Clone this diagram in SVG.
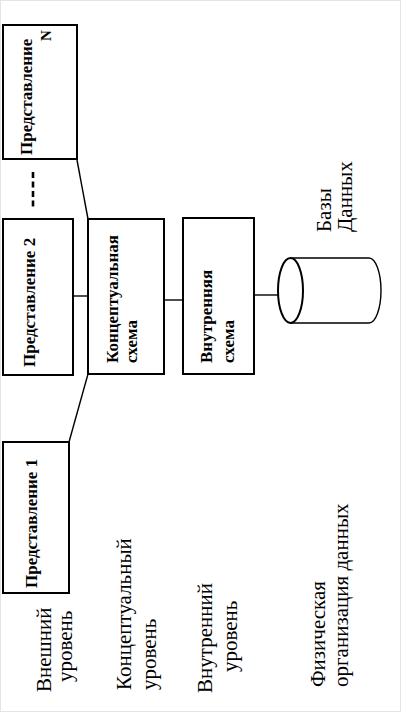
<svg xmlns="http://www.w3.org/2000/svg" width="401" height="712" viewBox="0 0 401 712">
<style>
.box{fill:#fff;stroke:#000;stroke-width:2}
.ln{fill:none;stroke:#000;stroke-width:1.4}
.bt{font-family:"Liberation Serif","Times New Roman",serif;font-size:17px;font-weight:bold;fill:#000}
.lt{font-family:"Liberation Serif","Times New Roman",serif;font-size:21px;fill:#000}
</style>
<rect x="0.5" y="0.5" width="400" height="711" fill="#fff" stroke="#e4e4e4" stroke-width="1"/>
<g id="connectors">
<line class="ln" x1="77" y1="160" x2="88" y2="219"/>
<line class="ln" x1="69" y1="442" x2="88" y2="374"/>
<line class="ln" x1="73" y1="296" x2="88" y2="296"/>
<line class="ln" x1="164" y1="300" x2="183" y2="300"/>
<line class="ln" x1="254" y1="295" x2="279" y2="295" stroke-width="2"/>
<line x1="33" y1="172" x2="33" y2="207" stroke="#000" stroke-width="2.6" stroke-dasharray="6,3.5"/>
</g>
<g id="viewN">
<rect class="box" x="3" y="25" width="74" height="134"/>
<text class="bt" transform="translate(32,155) rotate(-90)">Представление</text>
<text class="bt" style="font-size:15px" transform="translate(51,41) rotate(-90)">N</text>
</g>
<g id="view2">
<rect class="box" x="3" y="219" width="70" height="156"/>
<text class="bt" transform="translate(35,367) rotate(-90)">Представление 2</text>
</g>
<g id="view1">
<rect class="box" x="3" y="442" width="66" height="151"/>
<text class="bt" transform="translate(37,588) rotate(-90)">Представление 1</text>
</g>
<g id="conceptual">
<rect class="box" x="88" y="219" width="76" height="155"/>
<text class="bt" transform="translate(118,363) rotate(-90)">Концептуальная</text>
<text class="bt" transform="translate(137,363) rotate(-90)">схема</text>
</g>
<g id="internal">
<rect class="box" x="183" y="218" width="71" height="156"/>
<text class="bt" transform="translate(212,363) rotate(-90)">Внутренняя</text>
<text class="bt" transform="translate(234,363) rotate(-90)">схема</text>
</g>
<g id="database">
<path d="M290.5,258 L369,258 A12,32.5 0 0 1 369,323 L290.5,323" fill="#fff" stroke="#000" stroke-width="1.4"/>
<ellipse cx="290.5" cy="290.5" rx="12.5" ry="32.5" fill="#fff" stroke="#000" stroke-width="2"/>
<text class="lt" transform="translate(331,232) rotate(-90)">Базы</text>
<text class="lt" transform="translate(352,232) rotate(-90)">Данных</text>
</g>
<g id="labels">
<text class="lt" transform="translate(51,692) rotate(-90)">Внешний</text>
<text class="lt" transform="translate(72,682) rotate(-90)">уровень</text>
<text class="lt" transform="translate(131,690) rotate(-90)">Концептуальный</text>
<text class="lt" transform="translate(156,690) rotate(-90)">уровень</text>
<text class="lt" transform="translate(212,693) rotate(-90)">Внутренний</text>
<text class="lt" transform="translate(237,672) rotate(-90)">уровень</text>
<text class="lt" transform="translate(325,687) rotate(-90)">Физическая</text>
<text class="lt" transform="translate(348,687) rotate(-90)">организация данных</text>
</g>
</svg>
